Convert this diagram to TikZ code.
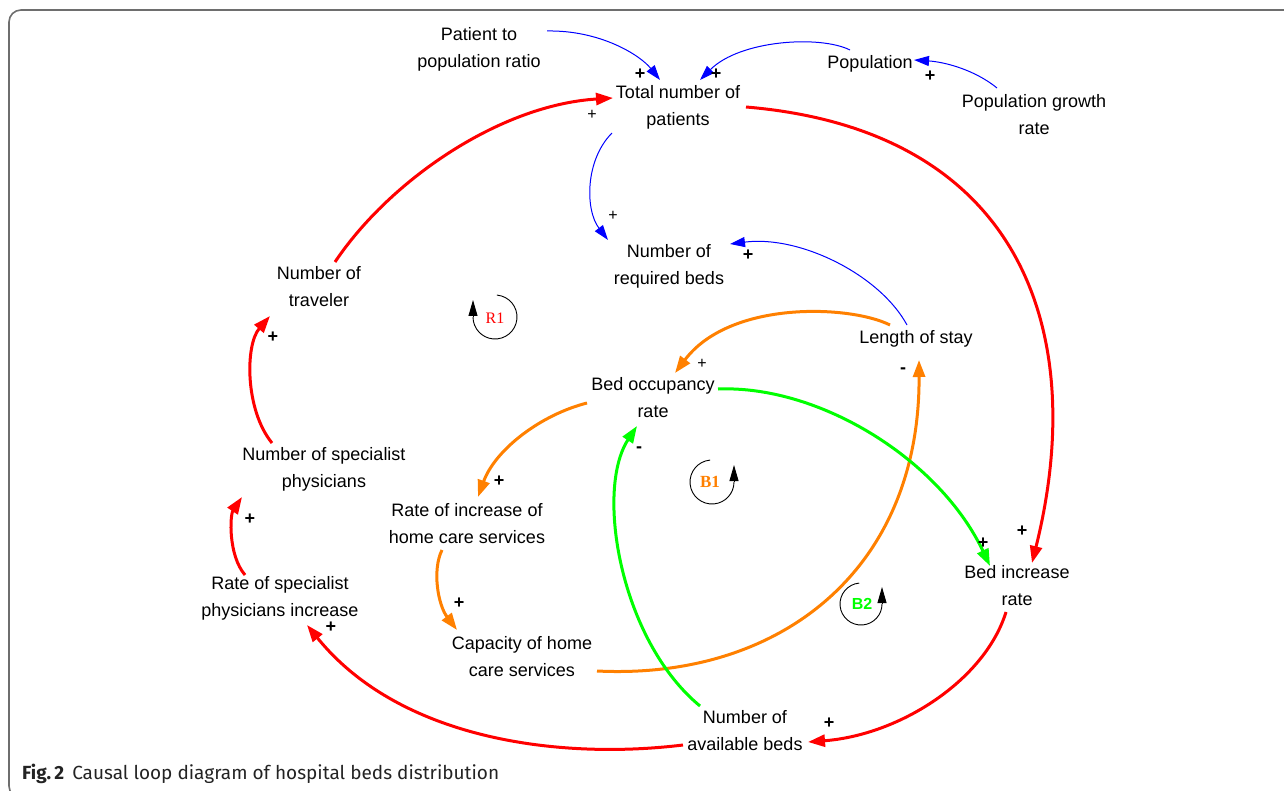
\documentclass[tikz,border=0pt]{standalone}
\usepackage{fontspec}
\setmainfont{Liberation Sans}
\newfontfamily\capfont{Fira Sans}
\newfontfamily\loopserif{Liberation Serif}
\usetikzlibrary{arrows.meta}
\definecolor{cldred}{RGB}{255,0,0}
\definecolor{cldorange}{RGB}{255,128,0}
\definecolor{cldgreen}{RGB}{0,255,0}
\definecolor{cldblue}{RGB}{0,0,255}
\definecolor{framegray}{RGB}{110,110,110}
\definecolor{captiongray}{RGB}{35,35,35}
\begin{document}
\begin{tikzpicture}[x=1pt,y=-1pt,
  var/.style={align=center,font=\fontsize{18}{27}\selectfont,inner sep=0pt},
  pol/.style={inner sep=0pt,font=\fontsize{18}{18}\selectfont\bfseries},
  polthin/.style={inner sep=0pt,font=\fontsize{16}{16}\selectfont},
  thinlink/.style={draw=cldblue,line width=1pt,-{Triangle[length=15pt,width=10pt]}},
  thicklink/.style={line width=3pt,-{Triangle[length=17pt,width=12pt]}},
  redlink/.style={thicklink,draw=cldred,color=cldred},
  orangelink/.style={thicklink,draw=cldorange,color=cldorange},
  greenlink/.style={thicklink,draw=cldgreen,color=cldgreen},
  loopline/.style={draw=black,line width=0.9pt},
  looptip/.style={draw=black,line width=0.9pt,-{Triangle[length=16pt,width=9pt]}}
]
\useasboundingbox (0,0) rectangle (1284,791);
\draw[framegray,line width=1.6pt,rounded corners=12pt] (9,10) rectangle (1310,798);

% variables
\node[var] (patient) at (479,49) {Patient to\\population ratio};
\node[var] (total) at (678,107) {Total number of\\patients};
\node[var] (pop) at (870,64) {Population};
\node[var] (pgr) at (1034,115) {Population growth\\rate};
\node[var] (req) at (669,266) {Number of\\required beds};
\node[var] (trav) at (319,287) {Number of\\traveler};
\node[var] (length) at (916,339) {Length of stay};
\node[var] (bo) at (653,398) {Bed occupancy\\rate};
\node[var] (sp) at (324,469) {Number of specialist\\physicians};
\node[var] (rh) at (467,524) {Rate of increase of\\home care services};
\node[var] (bir) at (1017,586) {Bed increase\\rate};
\node[var] (rs) at (280,598) {Rate of specialist\\physicians increase};
\node[var] (cap) at (522,657) {Capacity of home\\care services};
\node[var] (avail) at (745,731) {Number of\\available beds};

% blue links
\draw[thinlink] ([shift={(68,-18)}]patient.center) .. controls (600,30) and (640,55) .. ([shift={(-18,-27)}]total.center);
\draw[thinlink] ([shift={(-20,-14)}]pop.center) .. controls (820,35) and (740,40) .. ([shift={(22,-27)}]total.center);
\draw[thinlink] ([shift={(-37,-27)}]pgr.center) .. controls (975,70) and (945,62) .. ([shift={(44,-4)}]pop.center);
\draw[thinlink] ([shift={(-66,26)}]total.center) .. controls (585,160) and (585,210) .. ([shift={(-61,-26)}]req.center);
\draw[thinlink] ([shift={(-9,-14)}]length.center) .. controls (880,275) and (800,235) .. ([shift={(61,-22)}]req.center);

% red links
\draw[redlink] ([shift={(16,-25)}]trav.center) .. controls (390,180) and (500,105) .. ([shift={(-65,-9)}]total.center);
\draw[redlink] ([shift={(68,0)}]total.center) .. controls (1020,130) and (1090,330) .. ([shift={(15,-23)}]bir.center);
\draw[redlink] ([shift={(-52,-26)}]sp.center) .. controls (245,410) and (245,345) .. ([shift={(-49,29)}]trav.center);
\draw[redlink] ([shift={(-35,-23)}]rs.center) .. controls (228,555) and (230,515) .. ([shift={(-82,28)}]sp.center);
\draw[redlink] ([shift={(-11,26)}]bir.center) .. controls (985,680) and (900,735) .. ([shift={(63,11)}]avail.center);
\draw[redlink] ([shift={(-62,14)}]avail.center) .. controls (560,760) and (400,740) .. ([shift={(27,27)}]rs.center);

% orange links
\draw[orangelink] ([shift={(-26,-14)}]length.center) .. controls (850,305) and (730,300) .. ([shift={(22,-25)}]bo.center);
\draw[orangelink] ([shift={(-66,5)}]bo.center) .. controls (540,415) and (495,450) .. ([shift={(11,-27)}]rh.center);
\draw[orangelink] ([shift={(-25,26)}]rh.center) .. controls (432,570) and (438,605) .. ([shift={(-65,-27)}]cap.center);
\draw[orangelink] ([shift={(75,14)}]cap.center) .. controls (780,680) and (920,570) .. ([shift={(3,21)}]length.center);

% green links
\draw[greenlink] ([shift={(65,-9)}]bo.center) .. controls (820,385) and (940,460) .. ([shift={(-27,-20)}]bir.center);
\draw[greenlink] ([shift={(-45,-25)}]avail.center) .. controls (620,640) and (595,490) .. ([shift={(-16,28)}]bo.center);

% polarities
\node[pol] (p1) at (640,74) {+};
\node[pol] (p2) at (716,74) {+};
\node[pol] (p3) at (930,76) {+};
\node[polthin] (p4) at (592,115) {+};
\node[polthin] (p5) at (613,216) {+};
\node[pol] (p6) at (748,255) {+};
\node[pol] (p7) at (273,337) {+};
\node[pol] (p8) at (250,519) {+};
\node[polthin] (p9) at (702,364) {+};
\node[pol] (p10) at (499,481) {+};
\node[pol] (p11) at (459,603) {+};
\node[pol] (p12) at (903,371) {-};
\node[pol] (p13) at (639,450) {-};
\node[pol] (p14) at (983,543) {+};
\node[pol] (p15) at (1022,531) {+};
\node[pol] (p16) at (829,723) {+};
\node[pol] (p17) at (331,627) {+};

% loop markers
\coordinate (r1c) at (495,317);
\draw[loopline] ([shift={(-85:22)}]r1c) arc[start angle=-85,end angle=180,radius=22] coordinate (r1e);
\draw[looptip] (r1e) -- ++(0,-17);
\node[inner sep=0pt,text=cldred,font=\loopserif\fontsize{16}{16}\selectfont] (r1) at (495,318) {R1};
\coordinate (b1c) at (712,482);
\draw[loopline] ([shift={(-95:22)}]b1c) arc[start angle=-95,end angle=-360,radius=22] coordinate (b1e);
\draw[looptip] (b1e) -- ++(0,-17);
\node[inner sep=0pt,text=cldorange,font=\loopserif\fontsize{17}{17}\selectfont\bfseries] (b1) at (710,482) {B1};
\coordinate (b2c) at (861,604);
\draw[loopline] ([shift={(-95:21)}]b2c) arc[start angle=-95,end angle=-360,radius=21] coordinate (b2e);
\draw[looptip] (b2e) -- ++(0,-17);
\node[inner sep=0pt,text=cldgreen,font=\fontsize{16}{16}\selectfont\bfseries] (b2) at (862,604) {B2};

% caption
\node[anchor=base west,inner sep=0pt,text=captiongray,font=\capfont\fontsize{19}{19}\selectfont] (caption) at (22,779) {{\bfseries Fig.\,2}\hspace{8pt}Causal loop diagram of hospital beds distribution};
\end{tikzpicture}
\end{document}
